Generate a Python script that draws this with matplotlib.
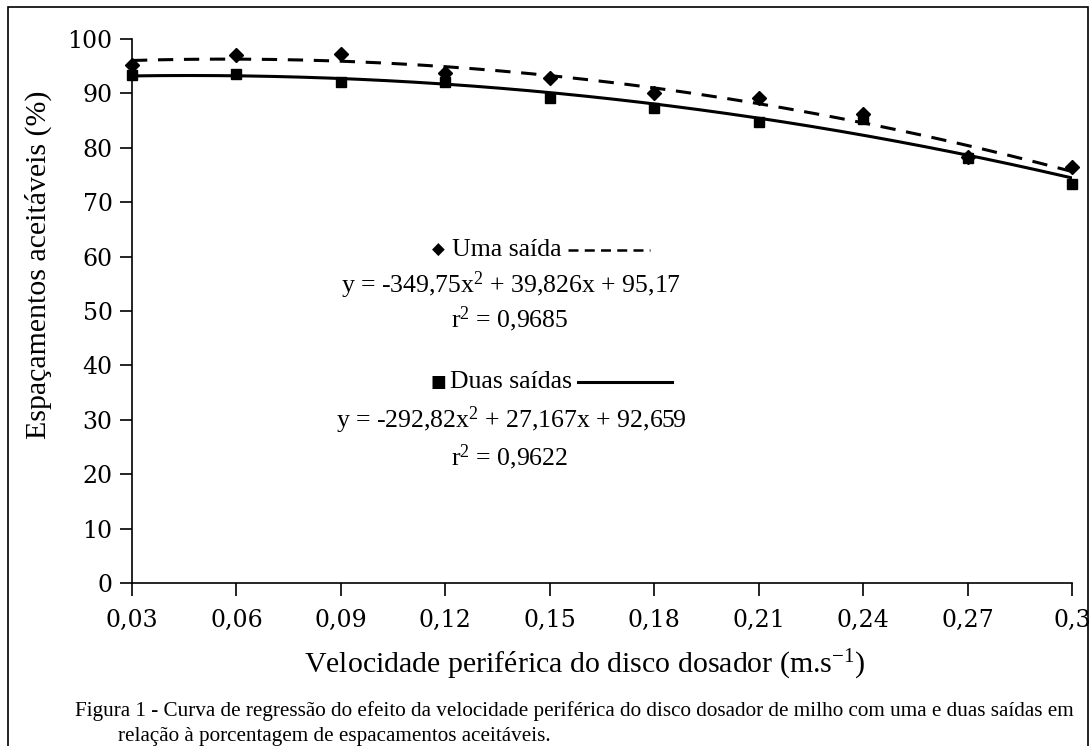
import numpy as np
import matplotlib
matplotlib.use("Agg")
import matplotlib.pyplot as plt
from matplotlib.patches import Rectangle

# velocidade periférica (m/s)
velocidade = [0.03, 0.06, 0.09, 0.12, 0.15, 0.18, 0.21, 0.24, 0.27, 0.30]
tick_labels = ["0,03", "0,06", "0,09", "0,12", "0,15", "0,18", "0,21", "0,24", "0,27", "0,3"]

# espaçamentos aceitáveis (%)
uma_saida = [95.2, 97.0, 97.3, 93.7, 92.9, 90.1, 89.2, 86.3, 78.4, 76.5]
duas_saidas = [93.4, 93.6, 92.1, 92.1, 89.2, 87.3, 84.7, 85.3, 78.2, 73.3]

# coeficientes das regressões (a, b, c)
coef_uma = [-349.75, 39.826, 95.17]
coef_duas = [-292.82, 27.167, 92.659]

SERIF = "Liberation Serif"
TICKF = "DejaVu Serif"
plt.rcParams["mathtext.fontset"] = "custom"
plt.rcParams["mathtext.rm"] = SERIF
plt.rcParams["mathtext.it"] = SERIF
plt.rcParams["mathtext.default"] = "regular"

dpi = 100
fig = plt.figure(figsize=(1091 / dpi, 746 / dpi), dpi=dpi)
ax = fig.add_axes([132 / 1091, 1 - 583 / 746, 940 / 1091, 544 / 746])

xs = np.linspace(velocidade[0], velocidade[-1], 200)
ax.plot(xs, np.polyval(coef_uma, xs), color="black", lw=2.2, ls=(0, (5, 3.5)))
ax.plot(xs, np.polyval(coef_duas, xs), color="black", lw=2.2, ls="-")
ax.plot(velocidade, uma_saida, "D", color="black", ms=7, clip_on=False)
ax.plot(velocidade, duas_saidas, "s", color="black", ms=7.5, clip_on=False)

ax.set_xlim(0.03, 0.30)
ax.set_ylim(0, 100)
ax.set_xticks(velocidade)
ax.set_xticklabels(tick_labels)
ax.set_yticks(range(0, 101, 10))
for s in ["top", "right"]:
    ax.spines[s].set_visible(False)
for s in ["left", "bottom"]:
    ax.spines[s].set_linewidth(1.2)
ax.tick_params(direction="out", length=9, width=1.2, labelsize=17)
ax.tick_params(axis="y", pad=5)
ax.tick_params(axis="x", pad=10)
for lb in ax.get_xticklabels() + ax.get_yticklabels():
    lb.set_fontfamily(TICKF)

# legenda dentro do gráfico
fs = 18.5
ax.text(0.1179, 61.2, "\u25C6", fontsize=12, family="DejaVu Sans", ha="center", va="center")
ax.text(0.1219, 61.2, "Uma saída", fontsize=fs, family=SERIF, ha="left", va="center")
ax.plot([0.1552, 0.1788], [61.3, 61.3], color="black", lw=1.8, ls=(0, (4, 2.5)))
ax.text(0.1389, 54.8, "y = -349,75x$^2$ + 39,826x + 95,17", fontsize=fs, family=SERIF,
        ha="center", va="center")
ax.text(0.1386, 48.5, "r$^2$ = 0,9685", fontsize=fs, family=SERIF, ha="center", va="center")

ax.text(0.1179, 36.9, "\u25A0", fontsize=12, family="DejaVu Sans", ha="center", va="center")
ax.text(0.1213, 36.9, "Duas saídas", fontsize=fs, family=SERIF, ha="left", va="center")
ax.plot([0.1581, 0.1851], [37.0, 37.0], color="black", lw=2.2)
ax.text(0.1389, 30.0, "y = -292,82x$^2$ + 27,167x + 92,659", fontsize=fs, family=SERIF,
        ha="center", va="center")
ax.text(0.1386, 23.2, "r$^2$ = 0,9622", fontsize=fs, family=SERIF, ha="center", va="center")

fig.text(38 / 1091, 1 - 265 / 746, "Espaçamentos aceitáveis (%)", rotation=90, fontsize=21.5,
         family=SERIF, ha="center", va="center")
fig.text(585 / 1091, 1 - 665 / 746, "Velocidade periférica do disco dosador (m.s$^{-1}$)",
         fontsize=21.5, family=SERIF, ha="center", va="center")

fig.text(75 / 1091, 1 - 711 / 746,
         "Figura 1 - Curva de regressão do efeito da velocidade periférica do disco dosador de milho com uma e duas saídas em",
         fontsize=15.2, family=SERIF, ha="left", va="center")
fig.text(118 / 1091, 1 - 737 / 746, "relação à porcentagem de espacamentos aceitáveis.",
         fontsize=15.2, family=SERIF, ha="left", va="center")

fig.patches.append(Rectangle((8 / 1091, -0.05), 1080 / 1091, 1.05 - 7 / 746, transform=fig.transFigure,
                             fill=False, edgecolor="black", lw=1.2))

fig.savefig("out.png", dpi=dpi)
